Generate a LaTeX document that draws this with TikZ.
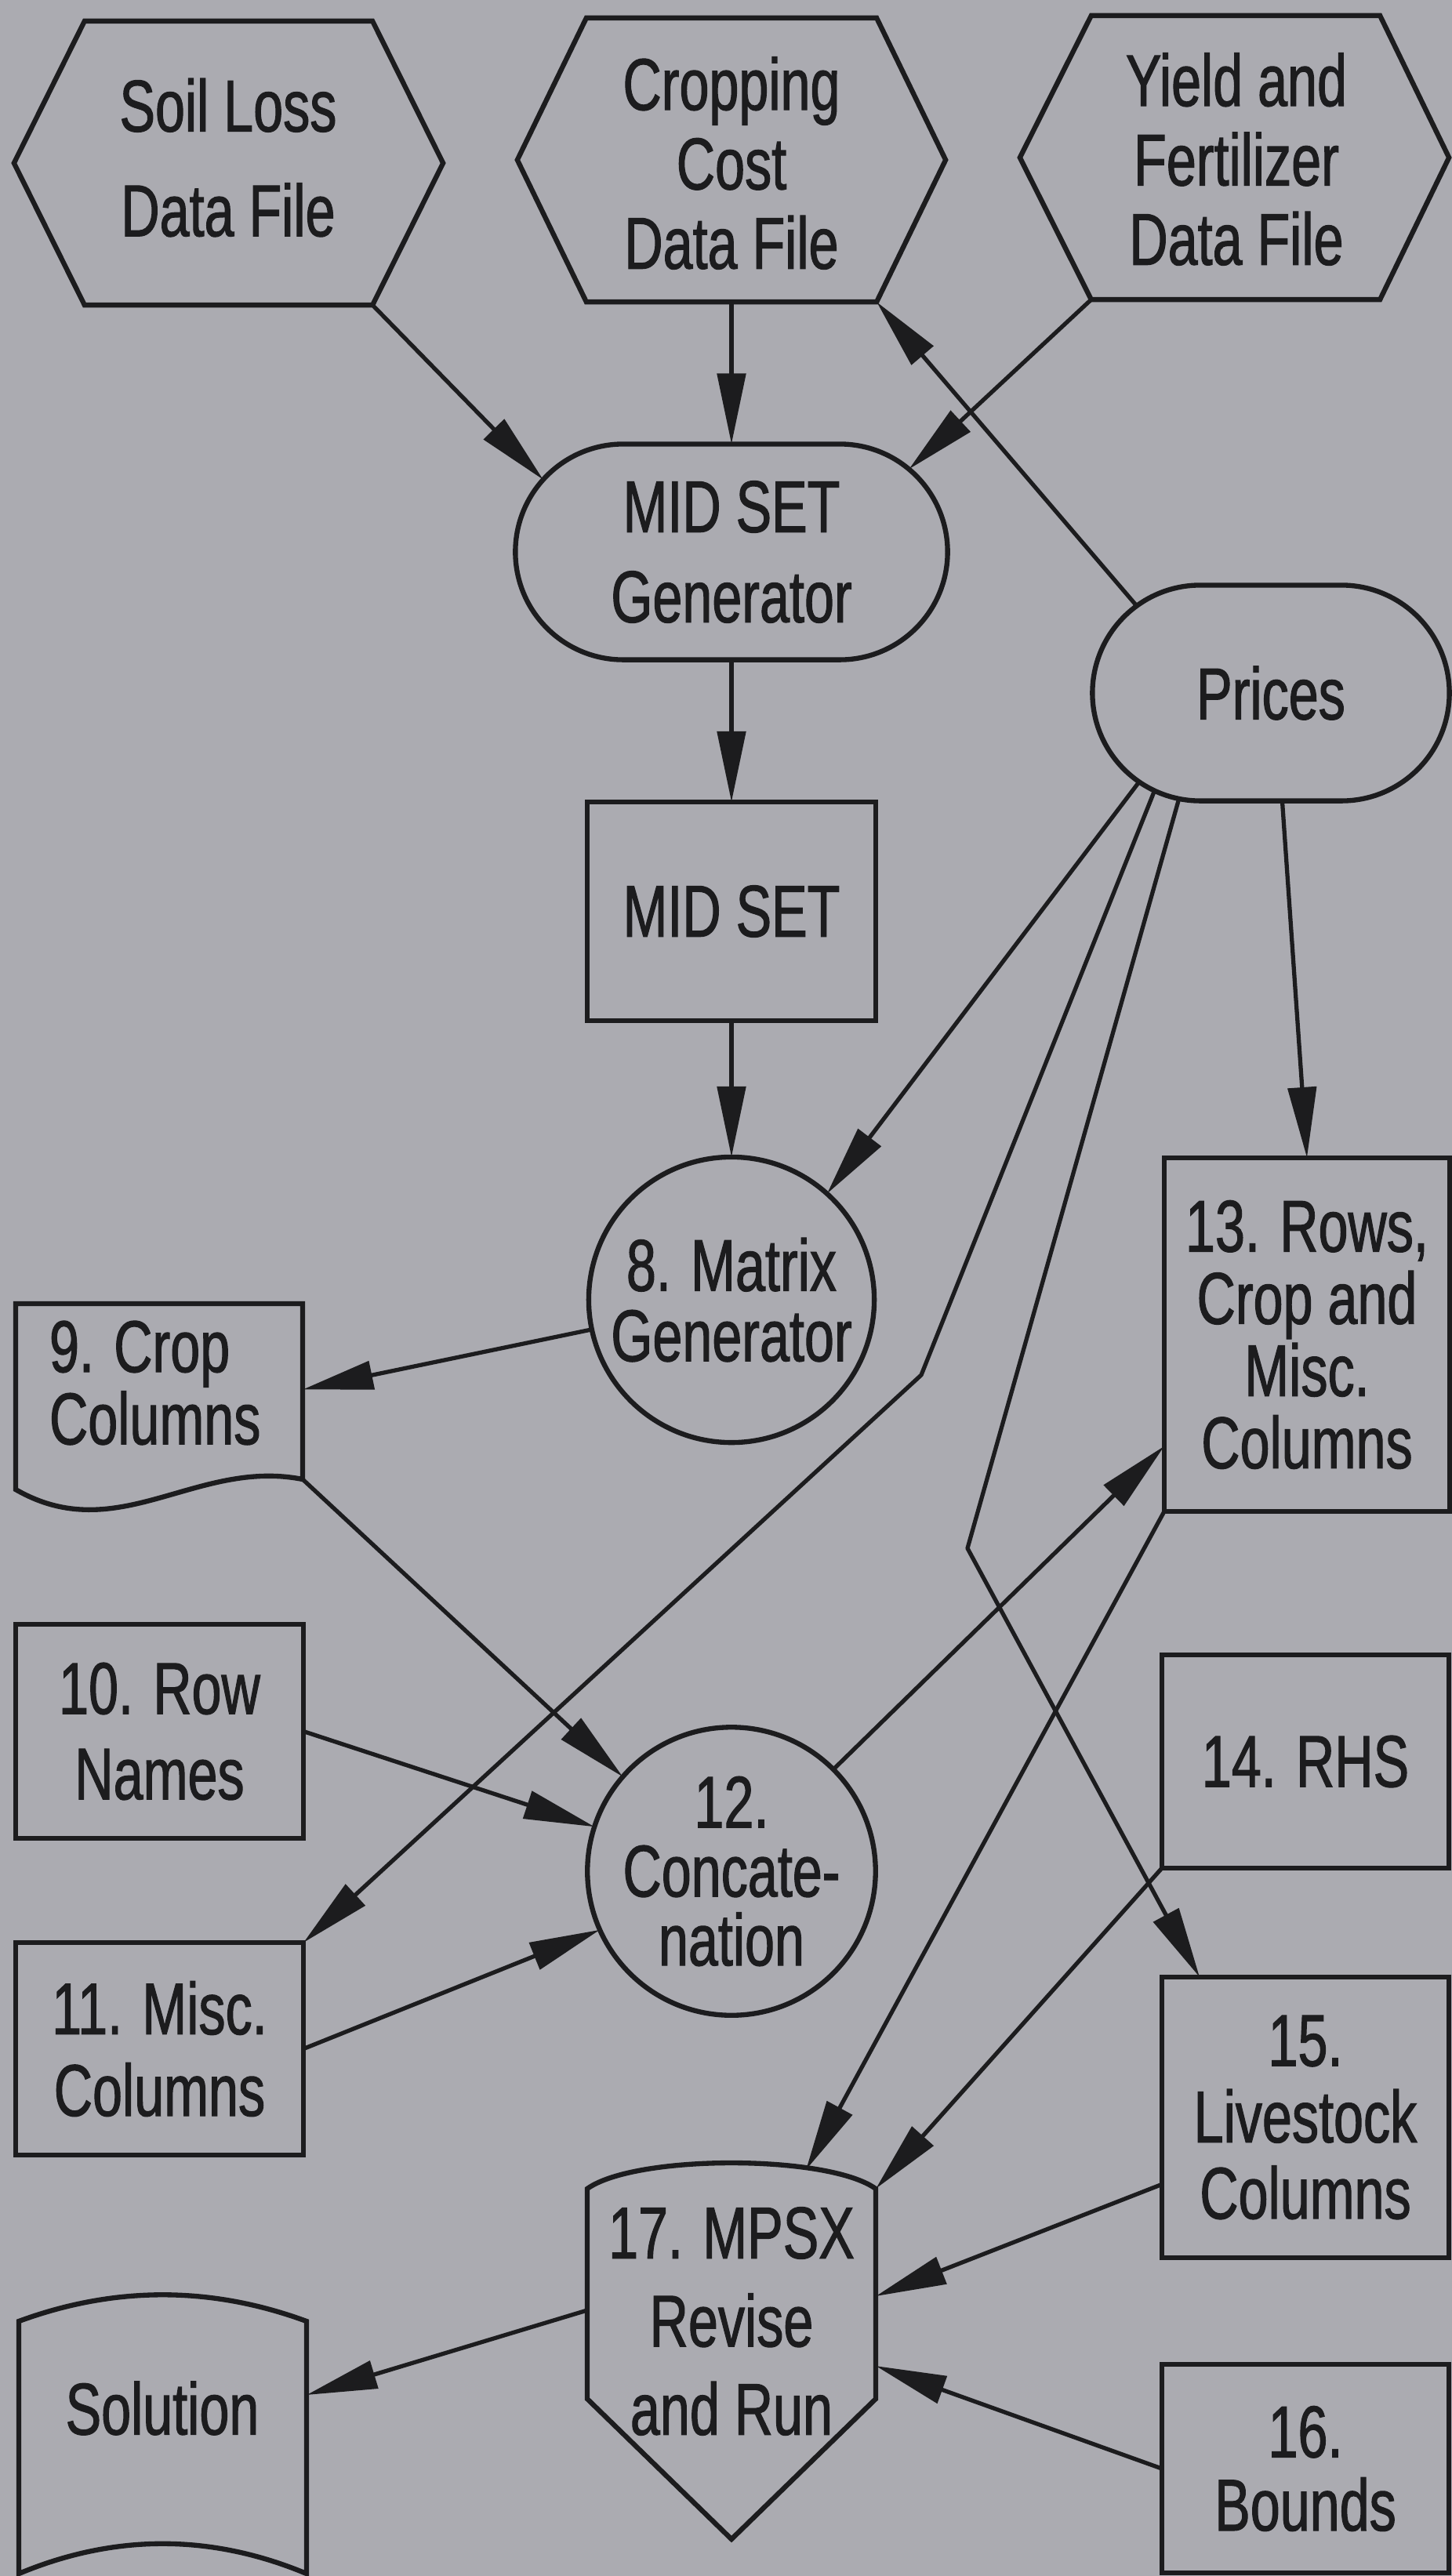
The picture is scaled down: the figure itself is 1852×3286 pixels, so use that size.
\documentclass[tikz,border=0pt]{standalone}
\usepackage{fontspec}
\setmainfont{Liberation Sans}[FakeStretch=0.73,FakeBold=1.2]
\usetikzlibrary{arrows.meta,shapes.misc,calc}
\definecolor{bgc}{RGB}{171,171,177}
\definecolor{ink}{RGB}{28,28,30}
\newcommand{\myfs}[1]{\fontsize{26.6pt}{#1pt}\selectfont}
\tikzset{
  bord/.style={draw=ink, line width=1.8pt},
  box/.style={bord, rectangle, inner sep=0pt, outer sep=0pt, align=center, text=ink, font={\myfs{30}}},
  bbox/.style={rectangle, draw=none, inner sep=0pt, outer sep=0pt},
  txt/.style={inner sep=0pt, outer sep=0pt, align=center, text=ink, font={\myfs{30}}},
  arr/.style={draw=ink, line width=1.5pt, line join=round, -{Triangle[length=9mm,width=3.6mm]}},
}
\begin{document}
\begin{tikzpicture}[x=0.01cm,y=-0.01cm]
\fill[bgc] (0,0) rectangle (1852,3286);
\useasboundingbox (0,0) rectangle (1852,3286);

% --- hexagon data files ---
\node[bbox, minimum width=5.47cm, minimum height=3.62cm] (soil) at (291.5,208) {};
\draw[bord] (soil.west) -- ($(soil.north west)+(90,0)$) -- ($(soil.north east)+(-90,0)$) -- (soil.east) -- ($(soil.south east)+(-90,0)$) -- ($(soil.south west)+(90,0)$) -- cycle;
\node[txt, font={\myfs{38}}] (soilT) at (291,201) {Soil Loss\\Data File};

\node[bbox, minimum width=5.46cm, minimum height=3.62cm] (cropd) at (933,204) {};
\draw[bord] (cropd.west) -- ($(cropd.north west)+(88,0)$) -- ($(cropd.north east)+(-88,0)$) -- (cropd.east) -- ($(cropd.south east)+(-88,0)$) -- ($(cropd.south west)+(88,0)$) -- cycle;
\node[txt, font={\myfs{28.8}}] (cropT) at (933,208) {Cropping\\Cost\\Data File};

\node[bbox, minimum width=5.47cm, minimum height=3.62cm] (yieldd) at (1574.5,201) {};
\draw[bord] (yieldd.west) -- ($(yieldd.north west)+(91,0)$) -- ($(yieldd.north east)+(-88,0)$) -- (yieldd.east) -- ($(yieldd.south east)+(-88,0)$) -- ($(yieldd.south west)+(91,0)$) -- cycle;
\node[txt, font={\myfs{28.8}}] (yieldT) at (1577,203) {Yield and\\Fertilizer\\Data File};

% --- process nodes ---
\node[box, shape=rounded rectangle, minimum width=5.51cm, minimum height=2.75cm, font={\myfs{32.7}}] (midgen) at (933,704) {MID SET\\Generator};
\node[box, shape=rounded rectangle, minimum width=4.55cm, minimum height=2.75cm] (prices) at (1621,884) {Prices};
\node[box, minimum width=3.68cm, minimum height=2.79cm] (midset) at (933,1162.5) {MID SET};
\node[box, shape=circle, minimum size=3.64cm, font={\myfs{25.5}}] (matrix) at (933,1658) {8. Matrix\\Generator};

% 9. Crop Columns (document shape)
\node[bbox, minimum width=3.66cm, minimum height=2.69cm] (c9) at (203,1797.5) {};
\draw[bord] (20,1663) -- (386,1663) -- (386,1887) .. controls (250,1860) and (150,1975) .. (20,1900) -- cycle;
\node[txt, font={\myfs{26.2}}, align=left, anchor=west] (c9T) at (63,1764) {9. Crop\\Columns};

\node[box, minimum width=3.64cm, minimum height=4.51cm, font={\myfs{26.2}}] (rows) at (1667,1702.5) {13. Rows,\\Crop and\\Misc.\\Columns};
\node[box, minimum width=3.67cm, minimum height=2.73cm, font={\myfs{31}}] (rown) at (203.5,2208.5) {10. Row\\Names};
\node[box, minimum width=3.67cm, minimum height=2.71cm, font={\myfs{29.6}}] (misc) at (203.5,2613.5) {11. Misc.\\Columns};
\node[box, shape=circle, minimum size=3.64cm, font={\myfs{25}}] (conc) at (933,2387) {12.\\Concate-\\nation};
\node[box, minimum width=3.66cm, minimum height=2.72cm] (rhs) at (1665,2247) {14. RHS};
\node[box, minimum width=3.66cm, minimum height=3.58cm, font={\myfs{27.7}}] (live) at (1665,2701) {15.\\Livestock\\Columns};
\node[box, minimum width=3.66cm, minimum height=2.66cm, font={\myfs{26.6}}] (bounds) at (1665,3149) {16.\\Bounds};

% 17. MPSX (shield shape)
\node[bbox, minimum width=3.68cm, minimum height=4.80cm] (mpsx) at (933,2999) {};
\draw[bord] (749,2792) .. controls (810,2748) and (1056,2748) .. (1117,2792) -- (1117,3060) -- (933,3239) -- (749,3060) -- cycle;
\node[txt, font={\myfs{32}}] (mpsxT) at (933,2961) {17. MPSX\\Revise\\and Run};

% Solution
\node[bbox, minimum width=3.67cm, minimum height=3.56cm] (sol) at (207.5,3105) {};
\draw[bord] (24,2961) .. controls (146,2916) and (269,2916) .. (391,2961) -- (391,3283) .. controls (269,3232) and (146,3232) .. (24,3283) -- cycle;
\node[txt] (solT) at (207,3072) {Solution};

% kinks
\coordinate (k1) at (1175,1754);
\coordinate (k2) at (1234,1975);

% --- connectors ---
\draw[arr] ($(soil.south east)+(-90,0)$) -- (midgen.159);
\draw[arr] (cropd.south) -- (midgen.north);
\draw[arr] ($(yieldd.south west)+(91,0)$) -- (midgen.25);
\draw[arr] (prices.147) -- ($(cropd.south east)+(-88,0)$);
\draw[arr] (midgen.south) -- (midset.north);
\draw[arr] (midset.south) -- (matrix.north);
\draw[arr] (prices.214) -- (matrix.48);
\draw[arr] (prices.220) -- (k1) -- (misc.north east);
\draw[arr] (prices.229) -- (k2) -- (live.127);
\draw[arr] (prices.276) -- (rows.north);
\draw[arr] (matrix.192) -- ($(c9.east)+(0,-25)$);
\draw[arr] ($(c9.south east)+(0,-45)$) -- (conc.139);
\draw[arr] (rown.east) -- (conc.162);
\draw[arr] (misc.east) -- (conc.204);
\draw[arr] (conc.45) -- (rows.218);
\draw[arr] (rows.south west) -- ($(mpsx.north)+(95,9)$);
\draw[arr] (rhs.south west) -- ($(mpsx.north east)+(0,33)$);
\draw[arr] (live.205) -- ($(mpsx.east)+(0,-70)$);
\draw[arr] (bounds.west) -- ($(mpsx.east)+(0,19)$);
\draw[arr] ($(mpsx.west)+(0,-52)$) -- ($(sol.east)+(0,-50)$);
\end{tikzpicture}
\end{document}
